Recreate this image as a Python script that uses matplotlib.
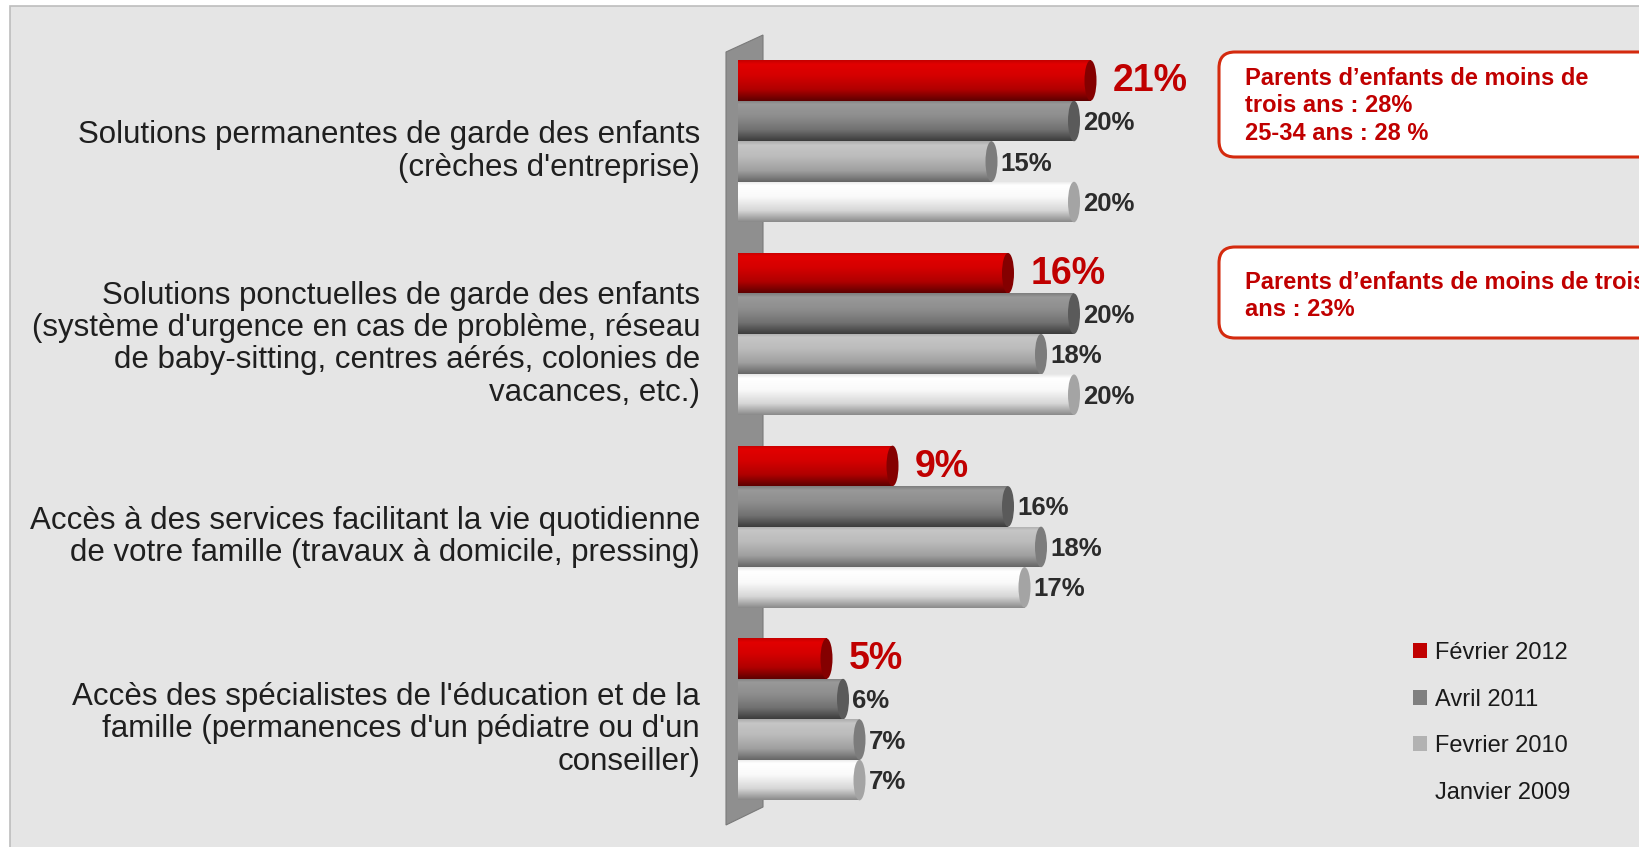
import numpy as np
import matplotlib
matplotlib.use("Agg")
import matplotlib.pyplot as plt
from matplotlib.colors import LinearSegmentedColormap
from matplotlib.patches import Ellipse, Polygon, FancyBboxPatch, Rectangle, Patch

plt.rcParams['font.family'] = ['Liberation Sans', 'DejaVu Sans']

# data
categories = [
    "Solutions permanentes de garde des enfants\n(crèches d'entreprise)",
    "Solutions ponctuelles de garde des enfants\n(système d'urgence en cas de problème, réseau\nde baby-sitting, centres aérés, colonies de\nvacances, etc.)",
    "Accès à des services facilitant la vie quotidienne\nde votre famille (travaux à domicile, pressing)",
    "Accès des spécialistes de l'éducation et de la\nfamille (permanences d'un pédiatre ou d'un\nconseiller)",
]
series_names = ["Février 2012", "Avril 2011", "Fevrier 2010", "Janvier 2009"]
fev2012 = [21, 16, 9, 5]
avr2011 = [20, 20, 16, 6]
fev2010 = [15, 18, 18, 7]
jan2009 = [20, 20, 17, 7]
series = [fev2012, avr2011, fev2010, jan2009]

notes = [
    ["Parents d\u2019enfants de moins de", "trois ans : 28%", "25-34 ans : 28 %"],
    ["Parents d\u2019enfants de moins de trois", "ans : 23%"],
]

# cylinder shading: (stops top->bottom), cap colour
shades = [
    (["#c40000", "#e20000", "#d50000", "#b00000", "#5e0000"], "#840000"),
    (["#7e7e7e", "#999999", "#8e8e8e", "#727272", "#3c3c3c"], "#5a5a5a"),
    (["#acacac", "#c6c6c6", "#bbbbbb", "#a0a0a0", "#666666"], "#7c7c7c"),
    (["#e6e6e6", "#ffffff", "#fafafa", "#d6d6d6", "#8a8a8a"], "#a4a4a4"),
]
legend_colors = ["#c00000", "#7f7f7f", "#b2b2b2", "none"]

W, H = 1639, 847
fig = plt.figure(figsize=(W / 100, H / 100), dpi=100)
fig.patch.set_facecolor("white")

# background axes in pixel units
bg = fig.add_axes([0, 0, 1, 1], zorder=0)
bg.set_xlim(0, W)
bg.set_ylim(H, 0)
bg.axis("off")
bg.add_patch(Rectangle((9.5, 6.5), W + 50, H + 50, fc="#e5e5e5", ec="#bdbdbd", lw=1.2))

# main axes: x in %, y in bar units
px_per_pct = 16.5
x_zero = 750
bar_px = 40.5
first_bar = 80.5
G = 192.7 / bar_px
ax = fig.add_axes([0, 0, 1, 1], zorder=1)
ax.patch.set_alpha(0)
ax.set_xlim(-x_zero / px_per_pct, (W - x_zero) / px_per_pct)
ax.set_ylim((H - first_bar) / bar_px, -first_bar / bar_px)
ax.axis("off")

def py(p):
    return (p - first_bar) / bar_px

def px(p):
    return (p - x_zero) / px_per_pct

# back wall
ax.add_patch(Polygon([(px(726), py(52)), (px(763), py(35)), (px(763), py(807)), (px(726), py(825))],
                     closed=True, fc="#8f8f8f", ec="#7a7a7a", lw=0.8, zorder=1))

x0 = px(738)
capw = 12 / px_per_pct
grad = np.linspace(0, 1, 200).reshape(-1, 1)

for j, vals in enumerate(series):
    stops, capc = shades[j]
    cmap = LinearSegmentedColormap.from_list("s%d" % j, list(zip([0, 0.1, 0.38, 0.72, 1.0], stops)))
    ypos = [g * G + j for g in range(len(vals))]
    widths = [v - capw / 2 - x0 for v in vals]
    bars = ax.barh(ypos, widths, left=x0, height=1.0, color="none", zorder=2 + j)
    for b, v, yy in zip(bars, vals, ypos):
        im = ax.imshow(grad, cmap=cmap, aspect="auto", origin="upper",
                       extent=(x0, v - capw / 2, yy + 0.5, yy - 0.5), zorder=2 + j)
        im.set_clip_path(b)
        ax.add_patch(Ellipse((v - capw / 2, yy), capw, 1.0, fc=capc, ec="none", zorder=2.5 + j))
        if j == 0:
            ax.text(v + 1.0, yy + 0.02, "%d%%" % v, ha="left", va="center", fontsize=27,
                    fontweight="bold", color="#c00000", zorder=10)
        else:
            ax.text(v + 0.18, yy + 0.05, "%d%%" % v, ha="left", va="center", fontsize=18.5,
                    fontweight="bold", color="#2b2b2b", zorder=10)

for g, lab in enumerate(categories):
    ax.text(px(700), g * G + 1.5 + 0.25, lab, ha="right", va="center", multialignment="right",
            fontsize=22.5, color="#1f1f1f", linespacing=1.1, zorder=10)

# annotation boxes
box_specs = [(52, 157, 85), (247, 338, 289)]
for (top, bot, base), lines in zip(box_specs, notes):
    bg.add_patch(FancyBboxPatch((1219, top), 600, bot - top, boxstyle="round,pad=0,rounding_size=16",
                                fc="white", ec="#d42a0e", lw=2.2))
    for k, line in enumerate(lines):
        bg.text(1245, base + k * 27.5, line, ha="left", va="baseline", fontsize=17,
                fontweight="bold", color="#c00000")

handles = [Patch(facecolor=c, edgecolor="none") for c in legend_colors]
fig.legend(handles, series_names, loc="upper left", bbox_to_anchor=(1413 / W, 1 - 642 / H),
           frameon=False, fontsize=17, handlelength=0.6, handleheight=0.6, handletextpad=0.35,
           labelspacing=1.04, borderpad=0, borderaxespad=0, labelcolor="#1a1a1a")

fig.savefig("out.png", dpi=100)
